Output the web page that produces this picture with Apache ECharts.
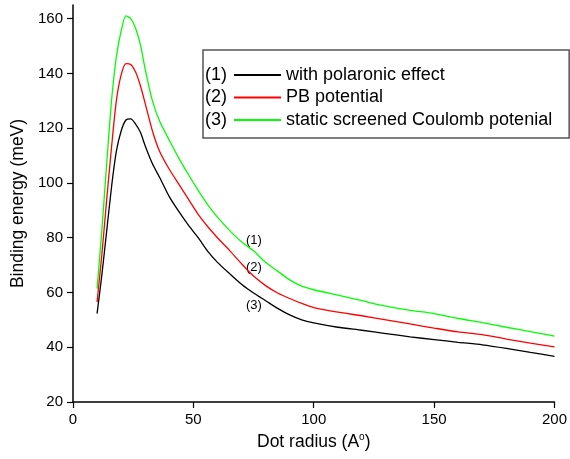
<!DOCTYPE html>
<html>
<head>
<meta charset="utf-8">
<script src="https://cdn.jsdelivr.net/npm/echarts@6/dist/echarts.min.js"></script>
<style>
  html, body { margin: 0; padding: 0; background: #fff; }
  #chart { width: 570px; height: 459px; }
</style>
</head>
<body>
<div id="chart"></div>
<script>
// dot radius (A°)
var radius = [10, 12, 14, 16, 18, 20, 22, 24, 26, 28, 30, 33, 36, 40, 44, 48, 52, 56, 60, 65,
  70, 75, 80, 85, 90, 95, 100, 110, 120, 130, 140, 150, 160, 170, 180, 190, 200];
// binding energy (meV)
var polaronic = [52.3, 66.5, 82.5, 98.5, 111.5, 119, 123, 123.4, 121.5, 118.5, 113.5, 107, 102, 95, 89.5, 84.5, 80, 75, 71, 66.9,
  63, 59.8, 57, 54.2, 51.8, 50, 48.9, 47.3, 46.2, 45, 43.8, 42.8, 41.8, 40.9, 39.6, 38.1, 36.7];
var pbPotential = [56.5, 74, 94, 113, 130, 139.5, 143.6, 143.3, 140.5, 135.5, 129, 119, 111.5, 105, 99.5, 94, 88.5, 84, 80, 75.4,
  70.5, 66, 62.5, 59.8, 57.8, 56, 54.5, 52.8, 51.5, 50, 48.5, 47, 45.6, 44.6, 43, 41.5, 40.1];
var coulomb = [61.4, 83, 107, 130, 146, 155.5, 161, 160, 156.5, 150.5, 141.5, 130, 122.5, 115.6, 109, 103, 97.3, 92, 87.5, 82.7,
  78.5, 75.2, 71, 67.8, 64.6, 62.3, 61, 59, 57, 55, 53.5, 52.3, 50.5, 49, 47.3, 45.7, 44.1];

var seriesNames = ['with polaronic effect', 'PB potential', 'static screened Coulomb potenial'];
var seriesColors = ['#000000', '#ff0000', '#00ff00'];
var yTicks = [20, 40, 60, 80, 100, 120, 140, 160];
var xTicks = [0, 50, 100, 150, 200];

var font = 'Liberation Sans, Arial, sans-serif';

function pairs(ys) {
  return radius.map(function (r, i) { return [r, ys[i]]; });
}

var chart = echarts.init(document.getElementById('chart'));

var option = {
  backgroundColor: '#fff',
  animation: false,
  textStyle: { fontFamily: font },
  grid: { left: 73, right: 12, top: 5, bottom: 57 },
  legend: {
    orient: 'vertical',
    left: 203,
    top: 50,
    padding: [16, 17, 9, 30],
    itemWidth: 47,
    itemHeight: 14,
    itemGap: 4.5,
    borderColor: '#555',
    borderWidth: 1.5,
    selectedMode: false,
    itemStyle: { opacity: 0 },
    textStyle: { fontFamily: font, fontSize: 18, color: '#000', padding: [0, 0, 0, 0] },
    data: seriesNames
  },
  xAxis: {
    type: 'value',
    min: 0,
    max: 200,
    interval: 50,
    name: 'Dot radius (A{sup|o})',
    nameLocation: 'middle',
    nameGap: 30,
    nameTextStyle: {
      fontFamily: font, fontSize: 17.5, color: '#000',
      rich: { sup: { fontFamily: font, fontSize: 10, color: '#000', padding: [0, 0, 10, 0] } }
    },
    axisLine: { lineStyle: { color: '#000', width: 1.5 } },
    axisTick: { inside: false, length: 6, lineStyle: { color: '#000', width: 1.2 }, customValues: xTicks },
    axisLabel: { color: '#000', fontSize: 15, margin: 10, fontFamily: font, customValues: xTicks },
    splitLine: { show: false }
  },
  yAxis: {
    type: 'value',
    min: 20,
    max: 165,
    name: 'Binding energy (meV)',
    nameLocation: 'middle',
    nameGap: 45,
    nameTextStyle: { fontFamily: font, fontSize: 17.5, color: '#000' },
    axisLine: { show: true, lineStyle: { color: '#000', width: 1.5 } },
    axisTick: { show: true, inside: false, length: 6, lineStyle: { color: '#000', width: 1.2 }, customValues: yTicks },
    axisLabel: { color: '#000', fontSize: 15, margin: 10, fontFamily: font, customValues: yTicks },
    splitLine: { show: false }
  },
  // 图例编号 + 曲线旁的编号
  graphic: [
    { type: 'text', left: 205, top: 66, style: { text: '(1)', font: '18px ' + font, fill: '#000' } },
    { type: 'text', left: 205, top: 88.5, style: { text: '(2)', font: '18px ' + font, fill: '#000' } },
    { type: 'text', left: 205, top: 111, style: { text: '(3)', font: '18px ' + font, fill: '#000' } },
    { type: 'text', left: 246, top: 234, style: { text: '(1)', font: '13px ' + font, fill: '#000' } },
    { type: 'text', left: 246, top: 261, style: { text: '(2)', font: '13px ' + font, fill: '#000' } },
    { type: 'text', left: 246, top: 299, style: { text: '(3)', font: '13px ' + font, fill: '#000' } }
  ],
  series: [polaronic, pbPotential, coulomb].map(function (ys, i) {
    return {
      name: seriesNames[i],
      type: 'line',
      data: pairs(ys),
      symbol: 'none',
      smooth: 0.25,
      color: seriesColors[i],
      lineStyle: { color: seriesColors[i], width: 1.3 },
      z: 3 - i
    };
  })
};

chart.setOption(option);
</script>
</body>
</html>
